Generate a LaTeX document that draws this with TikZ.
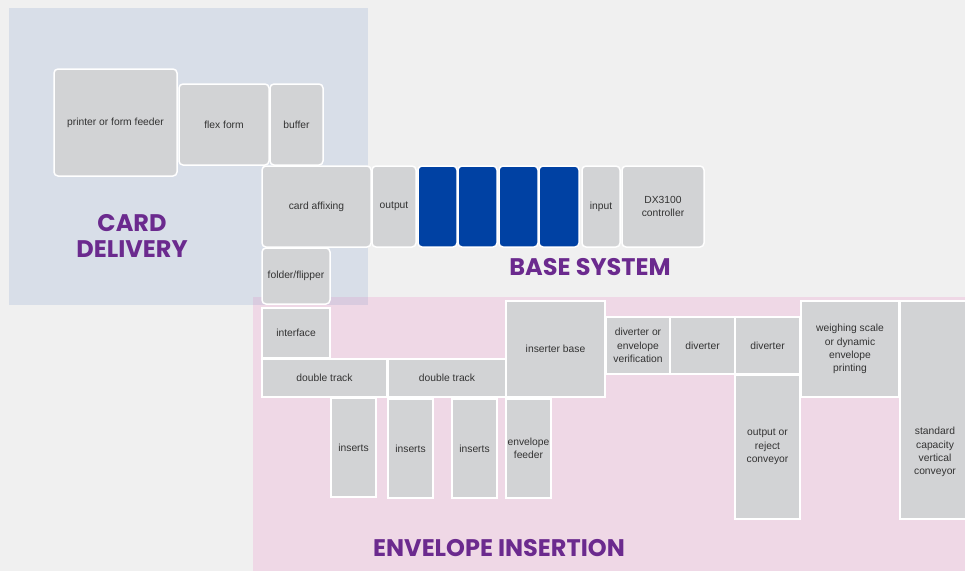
\documentclass[tikz,border=0pt]{standalone}
\usepackage{fontspec}
\setmainfont{Liberation Sans}
\newfontfamily\headfont{Poppins}
\definecolor{bgc}{HTML}{F0F0F0}
\definecolor{cardbg}{HTML}{D8DEE8}
\definecolor{envbg}{HTML}{EFD8E6}
\definecolor{overlapc}{HTML}{D9CBDF}
\definecolor{boxgray}{HTML}{D2D3D5}
\definecolor{basec}{HTML}{0041A3}
\definecolor{purplec}{HTML}{6B2A8E}
\definecolor{textc}{HTML}{333333}
\begin{document}
\begin{tikzpicture}[x=1pt,y=-1pt,
  unit/.style={draw=white, line width=1.5pt, fill=boxgray, rounded corners=4pt,
    inner sep=0pt, align=center, text=textc, font=\fontsize{10.3}{13.3}\selectfont},
  sq/.style={unit, sharp corners},
  bluebox/.style={unit, fill=basec},
  heading/.style={text=purplec, align=center, font=\headfont\bfseries\fontsize{24}{26}\selectfont},
  plain/.style={align=center, text=textc, inner sep=0pt, font=\fontsize{10.3}{13.3}\selectfont}]
\useasboundingbox (0,0) rectangle (965,571);
\fill[bgc] (0,0) rectangle (965,571);
\fill[cardbg] (9,8) rectangle (368,305);
\fill[envbg] (253,297) rectangle (965,571);
\fill[overlapc] (253,297) rectangle (368,305);

% card delivery
\node[unit, minimum width=123pt, minimum height=107pt] (pff) at (115.5,122.5) {printer or form feeder};
\node[unit, minimum width=90pt, minimum height=81pt] (flex) at (224,124.5) {flex form};
\node[unit, minimum width=53pt, minimum height=81pt] (buffer) at (296.5,124.5) {buffer};
\node[unit, minimum width=109pt, minimum height=81pt] (cardaff) at (316.5,206.5) {card affixing};
\node[unit, minimum width=68pt, minimum height=56pt] (folder) at (296,276) {folder/flipper};
\node[heading] (cardlbl) at (132,236) {CARD\\DELIVERY};

% base system
\node[unit, minimum width=44pt, minimum height=81pt] (output) at (394,206.5) {output};
\node[bluebox, minimum width=39pt, minimum height=81pt] (b1) at (437.5,206.5) {};
\node[bluebox, minimum width=39pt, minimum height=81pt] (b2) at (477.5,206.5) {};
\node[bluebox, minimum width=39pt, minimum height=81pt] (b3) at (518.5,206.5) {};
\node[bluebox, minimum width=40pt, minimum height=81pt] (b4) at (559,206.5) {};
\node[unit, minimum width=38pt, minimum height=81pt] (input) at (601,206.5) {input};
\node[unit, minimum width=82pt, minimum height=81pt] (dx) at (663,206.5) {DX3100\\controller};
\node[heading] (baselbl) at (590,267) {BASE SYSTEM};

% envelope insertion
\node[sq, minimum width=68pt, minimum height=50pt] (iface) at (296,333) {interface};
\node[sq, minimum width=125pt, minimum height=38pt] (dt1) at (324.5,378) {double track};
\node[sq, minimum width=118pt, minimum height=38pt] (dt2) at (447,378) {double track};
\node[sq, minimum width=99pt, minimum height=96pt] (ibase) at (555.5,349) {inserter base};
\node[sq, minimum width=45pt, minimum height=99pt] (ins1) at (353.5,447.5) {inserts};
\node[sq, minimum width=45pt, minimum height=99pt] (ins2) at (410.5,448.5) {inserts};
\node[sq, minimum width=45pt, minimum height=99pt] (ins3) at (474.5,448.5) {inserts};
\node[sq, minimum width=45pt, minimum height=99pt] (envf) at (528.5,448.5) {envelope\\feeder};
\node[sq, minimum width=64pt, minimum height=57pt] (dev) at (638,345.5) {diverter or\\envelope\\verification};
\node[sq, minimum width=65pt, minimum height=57pt] (div1) at (702.5,345.5) {diverter};
\node[sq, minimum width=65pt, minimum height=57pt] (div2) at (767.5,345.5) {diverter};
\node[sq, minimum width=65pt, minimum height=144pt] (orc) at (767.5,447) {output or\\reject\\conveyor};
\node[sq, minimum width=98pt, minimum height=96pt] (weigh) at (850,349) {weighing scale\\or dynamic\\envelope\\printing};
\node[sq, minimum width=68pt, minimum height=218pt] (scvc) at (934,410) {};
\node[plain] (scvctxt) at (935,452) {standard\\capacity\\vertical\\conveyor};
\node[heading] (envlbl) at (499,548) {ENVELOPE INSERTION};
\end{tikzpicture}
\end{document}
